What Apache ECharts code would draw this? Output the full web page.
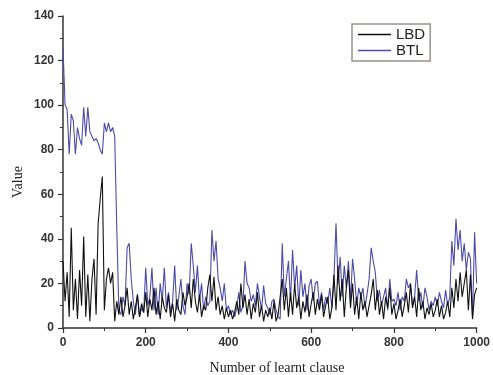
<!DOCTYPE html>
<html>
<head>
<meta charset="utf-8">
<script src="https://cdn.jsdelivr.net/npm/echarts@6/dist/echarts.min.js"></script>
<style>
  html, body { margin: 0; padding: 0; background: #fff; }
  #main { width: 493px; height: 375px; }
</style>
</head>
<body>
<div id="main"></div>
<script>
// clause number step between samples
var step = 5;

// LBD values, one every 5 clauses (0..1000)
var lbd = [
  30, 12, 25, 5, 45, 8, 22, 4, 26, 10,
  41, 5, 24, 3, 22, 31, 6, 47, 58, 68,
  8, 22, 27, 20, 25, 3, 12, 6, 14, 5,
  10, 18, 6, 12, 4, 9, 15, 5, 11, 7,
  16, 5, 13, 8, 18, 6, 12, 4, 14, 9,
  7, 15, 5, 11, 3, 13, 8, 6, 16, 10,
  14, 20, 9, 22, 12, 7, 15, 5, 10, 8,
  18, 24, 12, 23, 8, 14, 6, 10, 4, 9,
  5, 8, 4, 7, 12, 6, 20, 9, 15, 6,
  13, 4, 11, 7, 16, 5, 10, 3, 8, 5,
  9, 4, 12, 3, 6, 14, 22, 8, 18, 5,
  16, 6, 20, 9, 14, 4, 12, 7, 15, 5,
  11, 16, 6, 13, 8, 15, 5, 10, 14, 4,
  9, 24, 8, 28, 12, 22, 5, 18, 26, 9,
  20, 6, 14, 4, 16, 8, 12, 5, 10, 15,
  22, 8, 17, 6, 12, 4, 14, 9, 18, 6,
  11, 4, 8, 13, 5, 10, 16, 7, 20, 9,
  14, 5, 18, 8, 12, 4, 9, 6, 11, 5,
  8, 13, 5, 10, 4, 7, 12, 5, 18, 9,
  22, 12, 25, 14, 20, 26, 8, 24, 4, 15,
  18
];

// BTL values, same clause numbers
var btl = [
  126, 100, 98, 78, 96, 93, 78, 90, 85, 82,
  99, 86, 99, 88, 86, 84, 85, 83, 80, 78,
  92, 88, 92, 88, 90, 86, 45, 8, 6, 14,
  10, 36, 38, 22, 12, 6, 15, 5, 9, 7,
  27, 10, 14, 27, 8, 18, 6, 20, 12, 27,
  9, 16, 7, 12, 28, 8, 14, 22, 10, 6,
  20, 15, 38, 28, 16, 28, 12, 20, 8, 14,
  10, 12, 44, 30, 39, 22, 18, 12, 20, 8,
  10, 6, 8, 5, 9, 16, 7, 10, 30, 20,
  18, 12, 15, 10, 20, 14, 8, 19, 11, 9,
  6, 12, 13, 8, 5, 4, 38, 14, 22, 30,
  12, 35, 18, 28, 10, 26, 14, 20, 8, 19,
  22, 12, 20, 21, 10, 16, 8, 14, 11, 18,
  9, 22, 47, 20, 32, 14, 28, 18, 30, 12,
  31, 22, 10, 18, 14, 18, 9, 15, 22, 36,
  30, 25, 12, 17, 10, 14, 18, 8, 22, 12,
  13, 10, 16, 8, 14, 12, 22, 18, 20, 10,
  14, 26, 12, 16, 9, 18, 14, 8, 12, 10,
  14, 10, 16, 12, 9, 17, 10, 14, 39, 28,
  49, 35, 44, 30, 38, 26, 34, 31, 4, 43,
  20
];

function pairs(arr) {
  return arr.map(function (v, i) { return [i * step, v]; });
}

var myChart = echarts.init(document.getElementById('main'));

var labelStyle = {
  color: '#333',
  fontSize: 12,
  fontWeight: 'bold',
  fontFamily: 'Liberation Sans, Arial, sans-serif',
  margin: 9,
  formatter: function (v) { return String(v); }
};

var axisCommon = {
  axisLine: { show: true, lineStyle: { color: '#333', width: 1.5 } },
  axisTick: { show: true, inside: false, length: 5, lineStyle: { color: '#333', width: 1.2 } },
  minorTick: { show: true, splitNumber: 2, length: 3, lineStyle: { color: '#333', width: 1 } },
  splitLine: { show: false },
  axisLabel: labelStyle
};

var option = {
  animation: false,
  backgroundColor: '#fff',
  grid: { left: 63, right: 15, top: 16, bottom: 47 },
  legend: {
    data: ['LBD', 'BTL'],
    orient: 'vertical',
    left: 352,
    top: 24,
    padding: [3, 5, 3, 6],
    icon: 'rect',
    itemWidth: 33,
    itemHeight: 1.5,
    itemGap: 1,
    borderColor: '#9b8f8f',
    borderWidth: 1.5,
    textStyle: { fontSize: 15, color: '#222', fontFamily: 'Liberation Sans, Arial, sans-serif' }
  },
  xAxis: Object.assign({}, axisCommon, {
    type: 'value',
    min: 0,
    max: 1000,
    interval: 200
  }),
  yAxis: Object.assign({}, axisCommon, {
    type: 'value',
    min: 0,
    max: 140,
    interval: 20
  }),
  graphic: [
    {
      type: 'text',
      x: 277,
      y: 361,
      style: { text: 'Number of learnt clause', align: 'center', font: '14px "Liberation Serif", "Times New Roman", serif', fill: '#222' }
    },
    {
      type: 'text',
      x: 11,
      y: 198,
      rotation: Math.PI / 2,
      style: { text: 'Value', font: '14px "Liberation Serif", "Times New Roman", serif', fill: '#222' }
    }
  ],
  series: [
    {
      name: 'BTL',
      type: 'line',
      symbol: 'none',
      data: pairs(btl),
      lineStyle: { color: '#4b4bab', width: 1.1 },
      itemStyle: { color: '#4b4bab' }
    },
    {
      name: 'LBD',
      type: 'line',
      symbol: 'none',
      data: pairs(lbd),
      lineStyle: { color: '#111', width: 1.1 },
      itemStyle: { color: '#111' }
    }
  ]
};

myChart.setOption(option);
</script>
</body>
</html>
